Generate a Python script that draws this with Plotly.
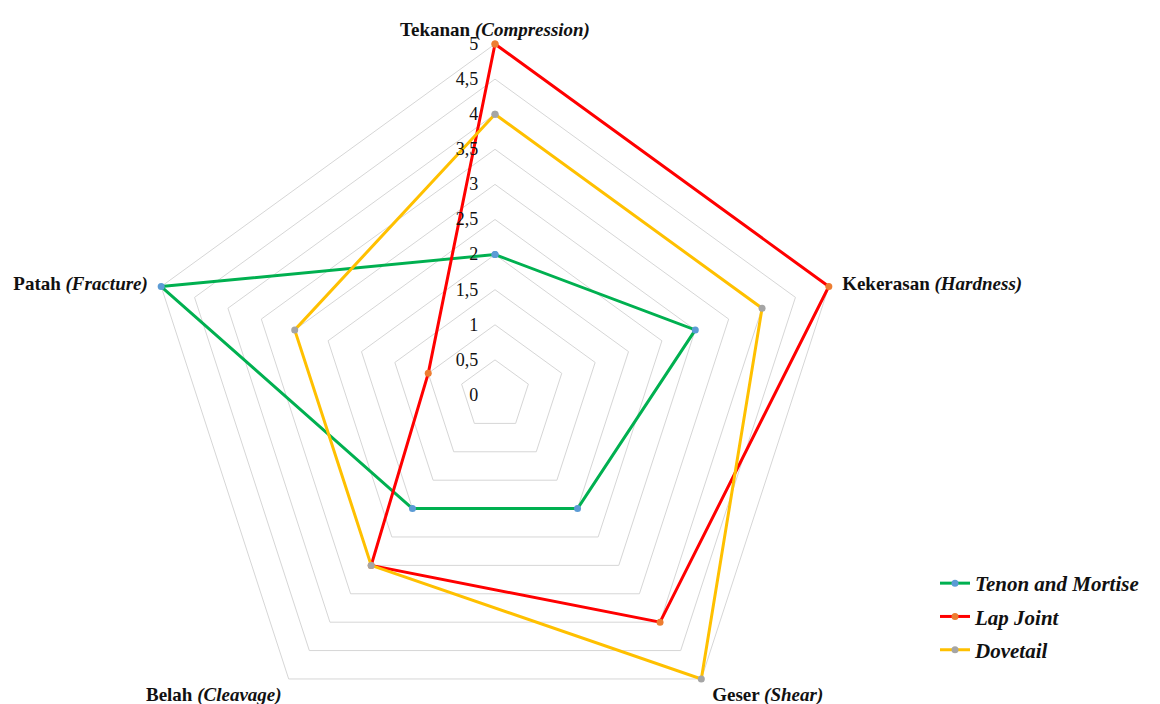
import plotly.graph_objects as go

NB = "\u00a0"
categories = [
    "<b>Tekanan <i>(Compression)</i></b>",
    NB * 2 + "<b>Kekerasan <i>(Hardness)</i></b>",
    NB + "\u2009<b>Geser <i>(Shear)</i></b>",
    "<b>Belah <i>(Cleavage)</i></b>" + NB,
    "<b>Patah <i>(Fracture)</i></b>" + NB * 2,
]
series_names = ["Tenon and Mortise", "Lap Joint", "Dovetail"]
tenon_values = [2, 3, 2, 2, 5]
lap_values = [5, 5, 4, 3, 1]
dovetail_values = [4, 4, 5, 3, 3]
line_colors = ["#00B050", "#FF0000", "#FFC000"]
marker_colors = ["#5B9BD5", "#ED7D31", "#A5A5A5"]

R_MAX = 5.05            # a little headroom so lines on the outer ring are not clipped
W, H = 1160, 752
FONT = "Liberation Serif"
GRID = "#D6D6D6"

fig = go.Figure()
for i, (name, vals, lc, mc) in enumerate(zip(series_names, [tenon_values, lap_values, dovetail_values], line_colors, marker_colors)):
    fig.add_trace(go.Scatterpolar(
        r=vals + vals[:1],
        theta=categories + categories[:1],
        mode="lines+markers",
        name=f"<b><i>{name}</i></b>",
        legendgroup=f"g{i}",
        line=dict(color=lc, width=3),
        marker=dict(color=mc, size=7),
        cliponaxis=False,
    ))

cx, cy = 495, 395
R = 351 * R_MAX / 5
fig.update_layout(
    width=W, height=H,
    margin=dict(l=0, r=0, t=0, b=0),
    paper_bgcolor="white",
    separators=", ",
    font=dict(family=FONT, size=16, color="#111111"),
    polar=dict(
        domain=dict(x=[(cx - R) / W, (cx + R) / W], y=[(H - cy - R) / H, (H - cy + R) / H]),
        bgcolor="white",
        gridshape="linear",
        angularaxis=dict(
            direction="clockwise", rotation=90, showgrid=False,
            showline=False, ticks="",
            tickfont=dict(family=FONT, size=19, color="#111111"),
        ),
        radialaxis=dict(
            range=[0, R_MAX], tick0=0, dtick=0.5, angle=90, side="counterclockwise",
            showline=False, ticks="", gridcolor=GRID, gridwidth=1,
            tickangle=90,
            tickfont=dict(family=FONT, size=18, color="#111111"),
            tickformat=".1~f", ticksuffix=NB * 3,
        ),
    ),
    legend=dict(
        x=935 / W, xanchor="left", y=1 - 563 / H, yanchor="top",
        font=dict(family=FONT, size=21, color="#111111"),
        itemwidth=30, tracegroupgap=3,
    ),
)

fig.write_html("out.html", post_script="document.documentElement.style.overflow='hidden';document.body.style.overflow='hidden';")
